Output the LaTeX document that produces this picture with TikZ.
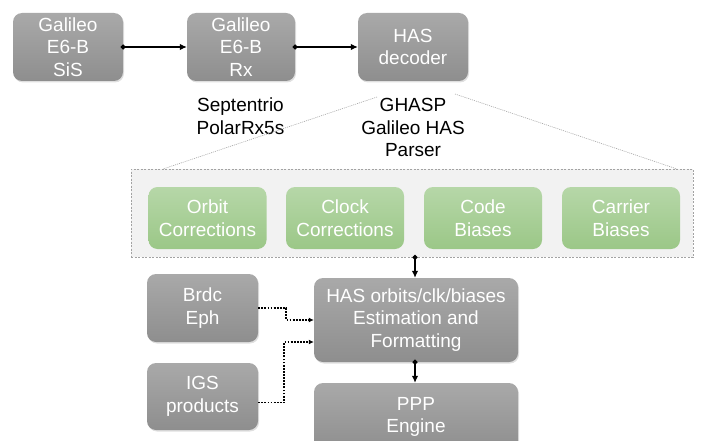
\documentclass[tikz,border=0pt]{standalone}
\usepackage{fontspec}
\setmainfont{Liberation Sans}
\usetikzlibrary{arrows.meta,shadows,calc}

\definecolor{boxtop}{HTML}{A9A9A9}
\definecolor{boxbot}{HTML}{8E8E8E}
\definecolor{grntop}{HTML}{B6D7A8}
\definecolor{grnbot}{HTML}{9BC787}
\definecolor{panel}{HTML}{F2F2F2}
\definecolor{panelline}{HTML}{A3A3A3}

\tikzset{
  txt/.style={font=\fontsize{19}{22.5}\selectfont, align=center, inner sep=0pt},
  graybox/.style={txt, text=white, rounded corners=9pt, top color=boxtop, bottom color=boxbot,
    draw=none, drop shadow={opacity=0.25, shadow xshift=1pt, shadow yshift=-1.5pt}},
  greenbox/.style={txt, text=white, rounded corners=9pt, top color=grntop, bottom color=grnbot,
    draw=none, minimum width=118pt, minimum height=62pt},
  flow/.style={black, line width=1.2pt, shorten <=-2.5pt,
    {Circle[length=5pt]}-{Latex[length=7pt,width=6.5pt]}},
  feed/.style={black, line width=1.8pt, dash pattern=on 1.8pt off 1.3pt,
    -{Latex[length=5pt,width=5pt]}},
  zoomline/.style={panelline, line width=0.6pt, dash pattern=on 1pt off 1pt}
}

\begin{document}
\begin{tikzpicture}[x=1pt,y=-1pt]
  \useasboundingbox (0,0) rectangle (706,441);
  \clip (0,0) rectangle (706,441);

  % receiver chain
  \node[graybox, minimum width=110pt, minimum height=68pt] (sis) at (68,47) {Galileo\\E6-B\\SiS};
  \node[graybox, minimum width=108pt, minimum height=68pt] (rx) at (241,47) {Galileo\\E6-B\\Rx};
  \node[graybox, minimum width=110pt, minimum height=68pt] (dec) at (413,47) {HAS\\decoder};
  \draw[flow] (sis.east) -- (rx.west);
  \draw[flow] (rx.east) -- (dec.west);

  \node[txt] (rxname) at (240.5,116) {Septentrio\\PolarRx5s};
  \node[txt] (parser) at (413,127.5) {GHASP\\Galileo HAS\\Parser};

  % parser outputs
  \node[txt, fill=panel, draw=panelline, line width=0.6pt, dash pattern=on 2pt off 1.5pt,
        minimum width=562pt, minimum height=88pt] (panelbox) at (412,213) {};
  \coordinate (zl1) at (377,97);
  \coordinate (zl2) at (163,169);
  \coordinate (zr1) at (455,94);
  \coordinate (zr2) at (677,169);
  \draw[zoomline] (zl1) -- (zl2);
  \draw[zoomline] (zr1) -- (zr2);

  \node[greenbox] (orb) at (207.5,218) {Orbit\\Corrections};
  \node[greenbox] (clk) at (345,218) {Clock\\Corrections};
  \node[greenbox] (cod) at (483,218) {Code\\Biases};
  \node[greenbox] (car) at (621,218) {Carrier\\Biases};

  % estimation and PPP
  \node[graybox, minimum width=111pt, minimum height=68pt] (brdc) at (202.5,308) {Brdc\\Eph};
  \node[graybox, minimum width=111pt, minimum height=67pt] (igs) at (202.5,396.5) {IGS\\products};
  \node[graybox, minimum width=204pt, minimum height=84pt] (est) at (416,320) {HAS orbits/clk/biases\\Estimation and\\Formatting};
  \node[graybox, minimum width=204pt, minimum height=68pt] (ppp) at (416,417) {PPP\\Engine};

  \coordinate (pin) at ($(panelbox.south -| est.north)+(-1,0)$);
  \draw[flow] (pin) -- (pin |- est.north);
  \draw[flow] ($(est.south)+(-1,0)$) -- ($(ppp.north)+(-1,0)$);

  \draw[feed] (brdc.east) -- ++(28,0) |- (est.west);
  \draw[feed] ([yshift=-6pt]igs.east) -- ++(26,0) |- ([yshift=-22pt]est.west);
\end{tikzpicture}
\end{document}
